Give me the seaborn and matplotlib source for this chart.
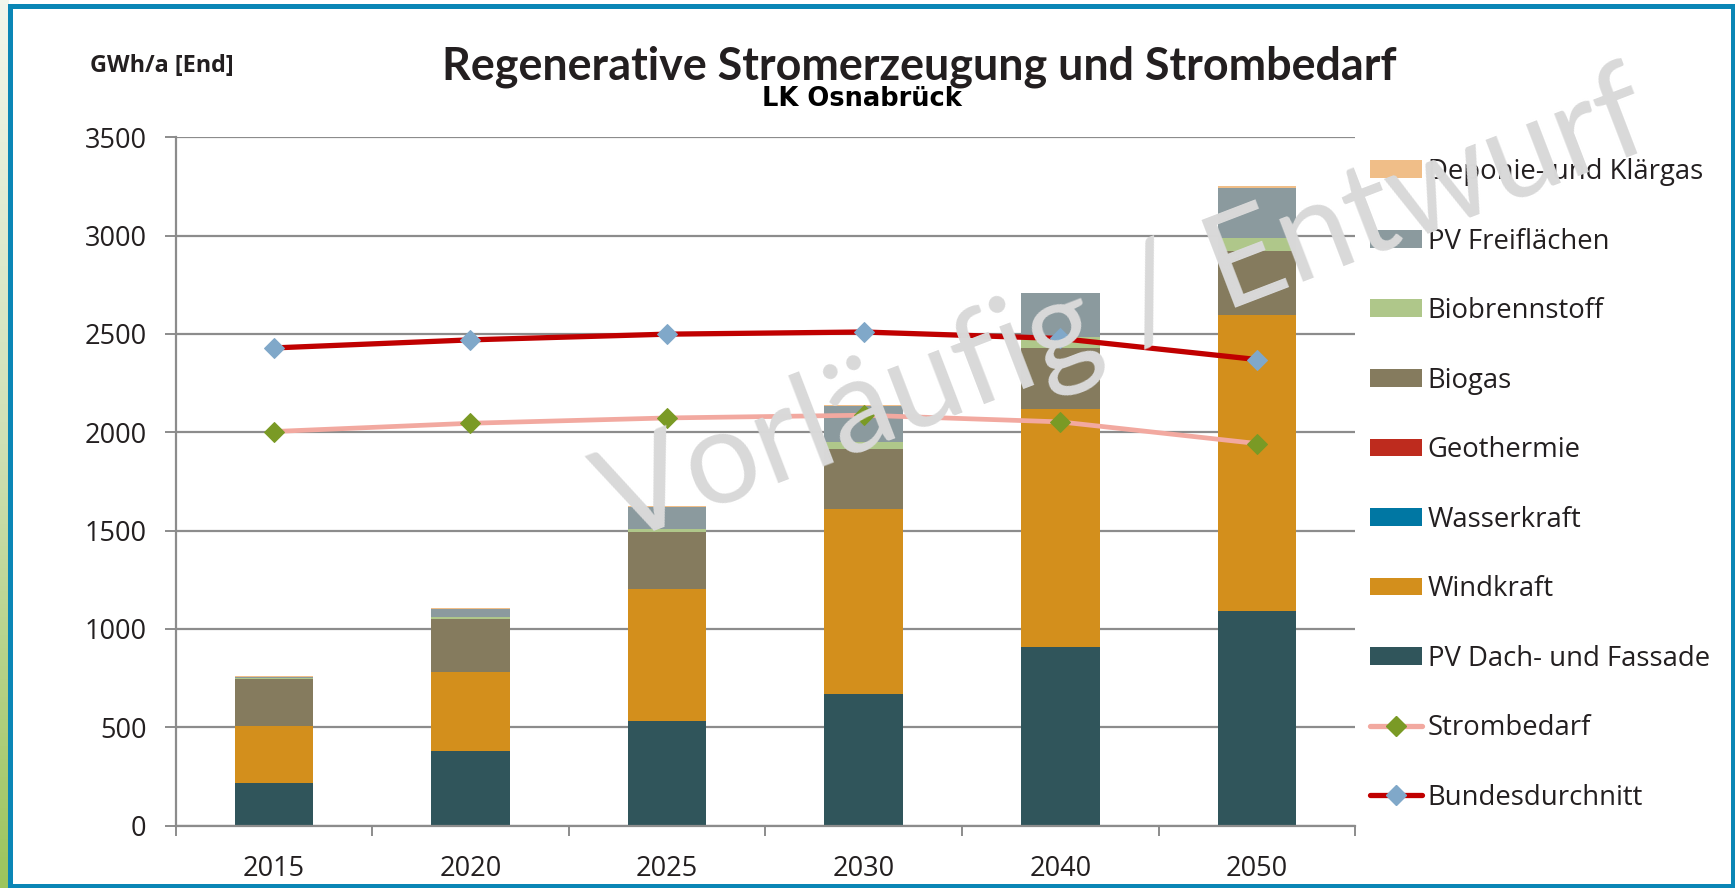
import numpy as np
import seaborn as sns
import matplotlib.pyplot as plt
from matplotlib.patches import Patch, Rectangle
from matplotlib.lines import Line2D
from matplotlib.colors import LinearSegmentedColormap

# Daten (GWh/a)
years = ["2015", "2020", "2025", "2030", "2040", "2050"]
pv_dach = [218, 380, 532, 671, 910, 1091]
windkraft = [290, 400, 669, 937, 1206, 1504]
wasserkraft = [0, 0, 0, 0, 0, 0]
geothermie = [0, 0, 0, 0, 0, 0]
biogas = [239, 270, 290, 308, 315, 326]
biobrennstoff = [2, 9, 17, 35, 54, 69]
pv_frei = [7, 44, 113, 185, 221, 254]
deponie = [3, 3, 5, 5, 3, 7]
strombedarf = [2004, 2046, 2073, 2087, 2053, 1943]
bundesdurchschnitt = [2429, 2470, 2499, 2510, 2477, 2370]

# Reihenfolge von unten nach oben
layers = [
    ("PV Dach- und Fassade", pv_dach, "#30555b"),
    ("Windkraft", windkraft, "#d38f1c"),
    ("Wasserkraft", wasserkraft, "#0077a3"),
    ("Geothermie", geothermie, "#be2b1e"),
    ("Biogas", biogas, "#857b5e"),
    ("Biobrennstoff", biobrennstoff, "#afc78a"),
    ("PV Freiflächen", pv_frei, "#8b9a9e"),
    ("Deponie- und Klärgas", deponie, "#f0be88"),
]

sns.set_theme(style="white")
plt.rcParams["font.family"] = ["Open Sans", "DejaVu Sans"]
txt = "#231f20"
grid_c = "#8c8c8c"

fig = plt.figure(figsize=(17.35, 8.88), dpi=100)
fig.patch.set_facecolor("white")

# gruener Streifen links (Folienhintergrund)
bg = fig.add_axes([0, 0, 8 / 1735, 1])
cmap = LinearSegmentedColormap.from_list("g", ["#f2f6ec", "#cfe0b4", "#9cc45c"])
bg.imshow(np.linspace(0, 1, 200).reshape(-1, 1), aspect="auto", cmap=cmap)
bg.axis("off")

ax = fig.add_axes([0.1012, 0.0702, 0.6799, 0.7752])

# gestapelte Balken: kumulierte Summen, von oben nach unten gezeichnet
cum = np.cumsum([l[1] for l in layers], axis=0)
for i in range(len(layers) - 1, -1, -1):
    sns.barplot(x=years, y=cum[i], color=layers[i][2], width=0.4,
                saturation=1, linewidth=0, ax=ax, zorder=2)

pos = np.arange(len(years))
sns.lineplot(x=pos, y=strombedarf, color="#f2a9a0", linewidth=3.4,
             marker="D", markersize=10.5, markerfacecolor="#7a9a25",
             markeredgecolor="#7a9a25", ax=ax, zorder=5)
sns.lineplot(x=pos, y=bundesdurchschnitt, color="#c00000", linewidth=3.8,
             marker="D", markersize=10.5, markerfacecolor="#80a8c9",
             markeredgecolor="#80a8c9", ax=ax, zorder=6)

ax.set_xlim(-0.5, len(years) - 0.5)
ax.set_ylim(0, 3500)
ax.set_yticks(range(0, 3501, 500))
ax.set_xticks(pos)
ax.set_xticklabels(years)
ax.set_xticks(np.arange(-0.5, len(years), 1), minor=True)
ax.set_xlabel("")
ax.set_ylabel("")

ax.yaxis.grid(True, color=grid_c, linewidth=1.6, zorder=0)
ax.xaxis.grid(False)
ax.set_axisbelow(True)
for s in ["top", "right"]:
    ax.spines[s].set_visible(False)
for s in ["left", "bottom"]:
    ax.spines[s].set_color(grid_c)
    ax.spines[s].set_linewidth(1.6)

ax.tick_params(axis="y", which="major", length=8, width=1.4, color=grid_c,
               direction="out", pad=13, labelsize=19.5, labelcolor=txt, left=True)
ax.tick_params(axis="x", which="major", length=0, pad=21, labelsize=19.5,
               labelcolor=txt)
ax.tick_params(axis="x", which="minor", length=7.5, width=1.4, color=grid_c,
               direction="out", bottom=True)

# Legende
handles = [Patch(facecolor=c, edgecolor="none", label=n) for n, _, c in layers[::-1]]
handles.append(Line2D([], [], color="#f2a9a0", linewidth=3.8, marker="D", markersize=10.5,
                      markerfacecolor="#7a9a25", markeredgecolor="#7a9a25",
                      label="Strombedarf"))
handles.append(Line2D([], [], color="#c00000", linewidth=3.8, marker="D", markersize=10.5,
                      markerfacecolor="#80a8c9", markeredgecolor="#80a8c9",
                      label="Bundesdurchnitt"))
fig.legend(handles=handles, loc="upper left", bbox_to_anchor=(1370 / 1735, 1 - 158 / 888),
           frameon=False, fontsize=19.8, handlelength=1.9, handleheight=0.62,
           handletextpad=0.2, labelspacing=1.51, borderpad=0, borderaxespad=0,
           labelcolor=txt)

# Titel
fig.text(0.530, 0.911, "Regenerative Stromerzeugung und Strombedarf", ha="center",
         va="baseline", fontsize=32.3, fontweight="bold", color=txt, family=["Lato", "DejaVu Sans"])
fig.text(0.497, 0.8806, "LK Osnabrück", ha="center", va="baseline", fontsize=18.5,
         fontweight="bold", color="black", family=["DejaVu Sans"])
fig.text(0.0934, 0.9189, "GWh/a [End]", ha="center", va="baseline", fontsize=16.8,
         fontweight="bold", color=txt)

# Wasserzeichen
fig.text(0.648, 0.650, "Vorläufig / Entwurf", ha="center", va="center", rotation=21,
         fontsize=94, color="#d9d9d9", zorder=20, family=["Lato", "DejaVu Sans"])

# blauer Rahmen
fig.patches.append(Rectangle((9.5 / 1735, 2.5 / 888), (1732.5 - 9.5) / 1735, (885.5 - 6.5) / 888,
                             transform=fig.transFigure, fill=False, edgecolor="#0a86b6",
                             linewidth=3.6, zorder=30))

fig.savefig("out.png", dpi=100)
